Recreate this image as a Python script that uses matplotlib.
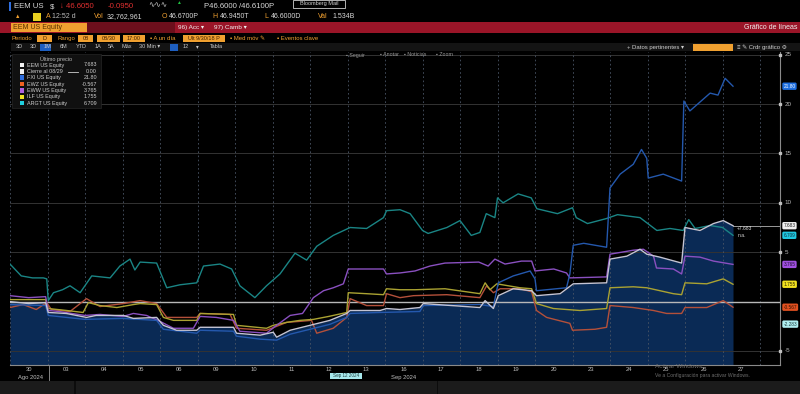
"""Bloomberg-style relative performance chart: EEM vs LatAm / China ETFs, Sep 2024."""

import matplotlib

matplotlib.use("Agg")
import matplotlib.pyplot as plt
import matplotlib.transforms as mtransforms
from matplotlib.patches import Rectangle

W, H = 800, 394

# x = trading-day position (0 = 30 Aug, 1 = 03 Sep, ...), y = % change vs 08/29 close
day_labels = ["30", "03", "04", "05", "06", "09", "10", "11", "12", "13",
              "16", "17", "18", "19", "20", "23", "24", "25", "26", "27"]

eem_t = [0, 0.5, 0.95, 1.02, 1.5, 2.04, 2.3, 3.02, 3.29, 3.91, 4.09, 4.44, 4.98, 5.07,
         5.96, 6.04, 6.67, 7.02, 7.11, 7.47, 8.0, 8.53, 8.98, 9.07, 9.87, 10.04, 10.4,
         10.93, 11.02, 12.53, 12.67, 12.89, 13.02, 13.42, 13.91, 14.04, 14.67, 15.02,
         15.91, 16.0, 16.45, 16.8, 16.98, 17.33, 17.91, 18.0, 18.4, 18.76, 19.02, 19.28]
eem_v = [0.0, -0.2, -0.1, -1.1, -1.2, -1.6, -1.4, -1.4, -1.7, -1.6, -2.4, -2.9, -2.9, -2.6,
         -2.6, -3.2, -3.4, -3.1, -3.6, -2.9, -2.4, -1.9, -1.2, -0.9, -0.9, -0.7, -0.8,
         -0.6, -0.2, -0.6, 0.1, -0.7, 0.6, 1.3, 1.1, 0.6, 0.8, 1.8,
         1.9, 4.3, 4.6, 5.3, 4.8, 4.5, 3.9, 7.5, 7.2, 7.9, 8.2, 7.683]

fxi_t = [0, 0.95, 1.02, 2.0, 3.0, 3.91, 4.09, 4.98, 5.07, 5.96, 6.04, 6.67, 7.11, 7.47,
         8.0, 8.53, 8.98, 9.07, 9.87, 10.93, 11.02, 12.53, 12.89, 13.02, 13.42, 13.87,
         14.0, 14.04, 14.84, 14.93, 15.02, 15.3, 15.91, 16.0, 16.27, 16.62, 16.84, 16.98,
         17.02, 17.42, 17.91, 17.97, 18.13, 18.4, 18.67, 18.88, 19.07, 19.28]
fxi_v = [-0.3, -0.4, -1.4, -1.8, -1.7, -1.9, -2.8, -3.2, -2.9, -3.0, -3.5, -3.8, -3.9, -3.3,
         -2.8, -2.3, -1.6, -1.2, -1.1, -1.0, -0.4, -0.3, -0.5, 1.9, 2.6, 3.1,
         2.3, 1.1, 1.4, 2.8, 5.7, 5.9, 5.5, 11.5, 12.9, 13.9, 15.4, 14.5,
         12.5, 12.9, 12.2, 20.3, 19.3, 20.2, 21.1, 20.9, 22.6, 21.80]

ewz_t = [0, 0.35, 0.7, 0.98, 1.1, 1.6, 2.04, 2.4, 3.02, 3.47, 3.91, 4.18, 4.98, 5.07,
         5.87, 6.04, 6.84, 7.11, 7.38, 7.73, 8.04, 8.18, 8.62, 8.98, 9.07, 9.51, 9.96,
         10.04, 10.4, 10.76, 11.65, 12.53, 12.71, 12.89, 13.07, 13.6, 13.91, 14.04, 14.31,
         14.93, 15.0, 15.6, 15.91, 16.0, 16.62, 17.16, 17.51, 17.91, 18.0, 18.58, 19.02, 19.28]
ewz_v = [-0.6, -0.3, -0.8, -0.1, -0.8, -1.0, 0.3, -0.5, -0.2, 0.1, -0.2, -1.6, -1.6, -1.2,
         -1.3, -2.7, -2.9, -2.5, -2.1, -2.0, -1.9, -3.2, -2.7, -1.6, 0.3, -0.4, -0.4,
         0.8, 0.4, 0.6, 0.7, 0.4, 1.6, 0.9, 1.3, 1.3, 1.0, -0.9, -1.6,
         -2.2, -2.9, -2.8, -2.6, -0.4, -0.6, -0.9, -1.2, -1.2, -0.6, -0.6, 0.1, -0.567]

eww_t = [0, 0.5, 0.95, 1.02, 1.3, 2.0, 2.4, 3.02, 3.29, 3.64, 4.0, 4.36, 4.89, 5.07,
         5.5, 5.96, 6.13, 6.84, 7.11, 7.47, 7.8, 8.09, 8.36, 8.62, 8.89, 9.02, 9.51, 9.96,
         10.04, 10.4, 10.8, 11.2, 11.6, 12.5, 12.75, 12.93, 13.2, 13.64, 13.91, 14.0, 14.5,
         14.84, 14.93, 15.91, 16.0, 16.62, 16.89, 17.16, 17.24, 17.69, 17.91, 18.0, 18.4,
         18.76, 19.28]
eww_v = [0.6, 0.4, 0.5, -0.9, -1.0, -1.4, -1.3, -1.5, -1.2, -1.4, -2.0, -2.7, -2.7, -1.5,
         -1.6, -1.9, -3.0, -3.2, -2.4, -1.4, -1.2, 0.4, 1.1, 1.4, 1.8, 3.3, 3.3, 3.3,
         2.8, 2.9, 3.1, 3.6, 3.9, 4.0, 3.6, 4.3, 3.8, 4.1, 4.1, 3.1, 3.3,
         2.9, 2.4, 2.5, 4.8, 5.2, 5.3, 4.6, 3.4, 3.3, 2.8, 4.6, 4.5,
         4.1, 3.765]

ilf_t = [0, 0.95, 1.02, 1.51, 1.95, 2.09, 2.4, 2.85, 3.29, 3.47, 3.91, 4.09, 4.36, 4.98,
         5.07, 5.96, 6.04, 6.84, 7.02, 7.38, 7.73, 8.09, 8.5, 8.98, 9.02, 9.51, 9.96,
         10.04, 10.4, 10.8, 11.6, 12.53, 12.67, 12.8, 12.98, 13.6, 13.91, 14.04, 14.49,
         15.2, 15.91, 16.0, 16.62, 16.98, 17.69, 17.91, 18.0, 18.58, 19.02, 19.28]
ilf_v = [0.2, 0.2, -0.7, -0.9, -1.1, -0.1, -0.4, -0.6, -0.3, -0.2, -0.3, -1.6, -1.9, -1.9,
         -1.2, -1.3, -2.4, -2.7, -2.4, -2.1, -1.9, -1.8, -1.5, -1.1, 0.9, 0.8, 0.7,
         1.3, 1.2, 1.2, 1.3, 0.8, 1.9, 1.2, 1.8, 1.4, 1.3, -0.2, -0.7,
         -0.9, -0.7, 1.4, 1.5, 1.4, 0.8, 0.7, 1.9, 1.8, 2.3, 1.755]

argt_t = [0, 0.3, 0.6, 0.89, 0.98, 1.02, 1.16, 1.4, 1.6, 1.87, 2.18, 2.67, 2.93, 3.2,
          3.33, 3.47, 3.91, 4.18, 4.53, 4.98, 5.16, 5.6, 5.91, 6.13, 6.53, 6.84, 7.2, 7.6,
          7.91, 8.18, 8.62, 9.07, 9.51, 9.96, 10.04, 10.4, 10.67, 11.0, 11.15, 11.65, 12.0,
          12.3, 12.53, 12.7, 12.93, 13.0, 13.15, 13.55, 13.9, 14.05, 14.6, 15.0, 15.1, 15.4,
          15.9, 16.2, 16.8, 17.25, 17.6, 17.95, 18.1, 18.27, 18.67, 19.0, 19.28]
argt_v = [3.8, 2.6, 2.4, 2.4, 2.3, 0.1, 0.9, 1.2, 1.6, 0.9, 2.6, 2.4, 3.6, 4.3,
          3.2, 4.0, 3.9, 1.4, 1.7, 1.9, 3.6, 3.8, 3.3, 1.6, 0.4, 1.6, 2.8, 4.9,
          4.2, 5.6, 6.7, 7.5, 7.4, 8.5, 9.2, 9.3, 8.9, 7.2, 6.9, 7.5, 8.2,
          6.7, 7.0, 8.9, 8.5, 10.5, 10.0, 10.9, 10.5, 9.4, 8.9, 9.5, 8.5, 7.9,
          8.4, 8.8, 8.5, 7.2, 7.4, 7.2, 8.3, 7.4, 7.7, 7.5, 6.709]

legend_names = ["EEM US Equity", "Cierre al 08/29", "FXI US Equity", "EWZ US Equity",
                "EWW US Equity", "ILF US Equity", "ARGT US Equity"]
legend_values = ["7.683", "0.00", "21.80", "-0.567", "3.765", "1.755", "6.709"]
legend_colors = ["#f2f2f2", "#f2f2f2", "#2f6fe0", "#f06020", "#b060e0", "#f0e020", "#20d0e0"]
right_ticks = [25, 20, 15, 10, 5, -5]

PX_PER_UNIT = 9.88
ZERO_PY = 301.6
PLOT_TOP, PLOT_BOTTOM, PLOT_LEFT, PLOT_RIGHT = 52, 365, 10, 780
DAY_PX = 37.5


def fx(x):
    return x / W


def fy(y):
    return 1 - y / H


def ftext(fig, x, y, s, **kw):
    kw.setdefault("va", "center")
    kw.setdefault("fontsize", 5)
    kw.setdefault("color", "#e0e0e0")
    fig.text(fx(x), fy(y), s, **kw)


def frect(fig, x, y, w, h, color, **kw):
    fig.patches.append(Rectangle((fx(x), fy(y + h)), w / W, h / H, transform=fig.transFigure,
                                 facecolor=color, edgecolor=kw.pop("edgecolor", "none"),
                                 linewidth=kw.pop("linewidth", 0.5), zorder=kw.pop("zorder", 1), **kw))


def draw_header(fig):
    orange = "#f0a030"
    # row 1: ticker line
    frect(fig, 9, 2, 2, 9, "#2f6fe0")
    ftext(fig, 14, 7, "EEM US", fontsize=5.6, color="#d8d8d8")
    ftext(fig, 50, 7, "$", fontsize=5.6, color="#d8d8d8")
    ftext(fig, 60, 7, "\u2193 46.6050", fontsize=5.6, color="#e03030")
    ftext(fig, 108, 7, "-0.0950", fontsize=5.6, color="#e03030")
    ftext(fig, 148, 6, "\u223f\u223f\u223f", fontsize=5.5, color="#c8c8c8")
    ftext(fig, 176, 3, "\u25b2", fontsize=3.5, color="#20c040")
    ftext(fig, 204, 7, "P46.6000 /46.6100P", fontsize=5.6, color="#d8d8d8")
    frect(fig, 293, 0, 52, 8, "black", edgecolor="#d0d0d0", linewidth=0.6, zorder=2)
    ftext(fig, 319, 4, "Bloomberg Mail", fontsize=4, color="#d0d0d0", ha="center", zorder=3)
    # row 2: quote stats
    ftext(fig, 15, 17, "\u25b2", fontsize=4, color=orange)
    frect(fig, 33, 13, 8, 8, "#e8d020")
    ftext(fig, 46, 17, "A", fontsize=5, color=orange)
    ftext(fig, 52, 17, "12:52 d", fontsize=5, color="#bbbbbb")
    stats = [(94, "Vol", 107, "32,762,961"), (162, "O", 169, "46.6700P"),
             (212, "H", 220, "46.9450T"), (264, "L", 271, "46.6000D"),
             (318, "Val", 332, "1.534B")]
    for lx, lab, vx, val in stats:
        ftext(fig, lx, 17, lab, fontsize=5, color=orange)
        ftext(fig, vx, 17, val, fontsize=5, color="#d8d8d8")
    # row 3: red security bar
    frect(fig, 0, 22, W, 11, "#9a1528")
    frect(fig, 87, 22, 88, 11, "#6c0f1c")
    frect(fig, 11, 23, 76, 9, orange)
    ftext(fig, 13, 27.5, "EEM US Equity", fontsize=5, color="#5a3300")
    ftext(fig, 178, 27.5, "96) Acc \u25be", fontsize=4.6, color="#f0f0f0")
    ftext(fig, 214, 27.5, "97) Camb \u25be", fontsize=4.6, color="#f0f0f0")
    ftext(fig, 797, 27.5, "Gr\u00e1fico de l\u00edneas", fontsize=5, color="#f0f0f0", ha="right")
    # row 4: period / range controls
    ftext(fig, 12, 38.5, "Periodo", fontsize=4.3, color=orange)
    frect(fig, 37, 35, 15, 7, orange)
    ftext(fig, 44.5, 38.5, "D", fontsize=4, color="#402000", ha="center")
    ftext(fig, 58, 38.5, "Rango", fontsize=4.3, color=orange)
    for bx, bw, s in [(78, 15, "08"), (97, 23, "08/30"), (123, 22, "17:00")]:
        frect(fig, bx, 35, bw, 7, orange)
        ftext(fig, bx + bw / 2, 38.5, s, fontsize=4, color="#402000", ha="center")
    ftext(fig, 150, 38.5, "\u25aa A un d\u00eda", fontsize=4.3, color=orange)
    frect(fig, 183, 35, 42, 7, orange)
    ftext(fig, 204, 38.5, "Ult 9/30/18 P", fontsize=4, color="#402000", ha="center")
    ftext(fig, 230, 38.5, "\u25aa Med m\u00f3v \u270e", fontsize=4.3, color=orange)
    ftext(fig, 277, 38.5, "\u25aa Eventos clave", fontsize=4.3, color=orange)
    # row 5: time-frame buttons
    frect(fig, 11, 43, W - 11, 8, "#141414")
    tabs = [(16, "3D"), (30, "3D"), (44, "1M"), (60, "6M"), (76, "YTD"), (95, "1A"),
            (108, "5A"), (121, "M\u00e1x"), (139, "30 Min \u25be"), (183, "12"), (196, "\u25be"),
            (210, "Tabla")]
    frect(fig, 40, 43.5, 11, 7, "#1e5fc0")
    frect(fig, 170, 43.5, 8, 7, "#1e5fc0")
    for tx, s in tabs:
        ftext(fig, tx, 47, s, fontsize=4, color="#c8c8c8")
    ftext(fig, 627, 47, "+ Datos pertinentes \u25be", fontsize=4.3, color="#d0d0d0")
    frect(fig, 693, 43.5, 40, 7, orange)
    ftext(fig, 737, 47, "\u2261 \u270e Crdr gr\u00e1fico \u2699", fontsize=4.3, color="#d0d0d0")
    # row 6: chart tools
    for tx, s in [(346, "\u25aa Seguir"), (380, "\u25aa Anotar"), (404, "\u25aa Noticias"),
                  (436, "\u25aa Zoom")]:
        ftext(fig, tx, 55, s, fontsize=3.8, color="#9a9a9a", zorder=6)


def draw_legend(fig):
    frect(fig, 12, 54, 89, 54, "#101010", edgecolor="#262626", zorder=5)
    ftext(fig, 56, 59, "\u00daltimo precio", fontsize=4, color="#bbbbbb", ha="center", zorder=6)
    for i, (name, val, col) in enumerate(zip(legend_names, legend_values, legend_colors)):
        y = 65 + i * 6.35
        frect(fig, 19.5, y - 2.2, 4.4, 4.4, col, zorder=6)
        ftext(fig, 27, y, name, fontsize=3.9, color="#cfcfcf", zorder=6)
        ftext(fig, 97, y, val, fontsize=3.9, color="#cfcfcf", ha="right", zorder=6)
    fig.lines.append(plt.Line2D([fx(68), fx(78)], [fy(71.5), fy(71.5)], transform=fig.transFigure,
                                color="#cfcfcf", linewidth=0.6, zorder=6))


def draw_chart(fig):
    top = (ZERO_PY - PLOT_TOP) / PX_PER_UNIT
    bottom = (ZERO_PY - PLOT_BOTTOM) / PX_PER_UNIT
    right = (PLOT_RIGHT - PLOT_LEFT) / DAY_PX
    ax = fig.add_axes([fx(PLOT_LEFT), fy(PLOT_BOTTOM), (PLOT_RIGHT - PLOT_LEFT) / W,
                       (PLOT_BOTTOM - PLOT_TOP) / H])
    ax.set_facecolor("black")
    ax.set_xlim(0, right)
    ax.set_ylim(bottom, top)
    ax.set_xticks([])
    ax.set_yticks([])
    for side in ("left", "top"):
        ax.spines[side].set_visible(False)
    for side in ("right", "bottom"):
        ax.spines[side].set_color("#8a8a8a")
        ax.spines[side].set_linewidth(0.8)

    ax.fill_between(eem_t, eem_v, bottom, color="#0a2a55", linewidth=0, zorder=1)
    for v in right_ticks:
        ax.axhline(v, color="#333333", linewidth=0.7, zorder=2)
    for i in range(len(day_labels) + 1):
        ax.axvline(i, color="#4a5566", linewidth=0.6, linestyle=(0, (2, 3)), zorder=2)

    ax.axhline(0, color="#b8b8b8", linewidth=1.0, zorder=3)
    series = [
        (argt_t, argt_v, "#1a8585"),
        (ewz_t, ewz_v, "#b4503a"),
        (ilf_t, ilf_v, "#aaa232"),
        (eww_t, eww_v, "#8a50c0"),
        (fxi_t, fxi_v, "#2458ad"),
        (eem_t, eem_v, "#c4c4d4"),
    ]
    for t, v, c in series:
        ax.plot(t, v, color=c, linewidth=1.0, zorder=4)
    ax.plot([eem_t[-1], right], [eem_v[-1], eem_v[-1]], color="#9a9a9a", linewidth=0.7, zorder=3)
    ax.text(eem_t[-1] + 0.1, eem_v[-1] - 0.25, "+7.683", fontsize=3.6, color="#d8d8d8",
            va="center", zorder=5)
    ax.text(eem_t[-1] + 0.12, eem_v[-1] - 1.0, "n.a.", fontsize=3.6, color="#d8d8d8",
            va="center", zorder=5)

    # right axis ticks and last-value tags
    trans = mtransforms.blended_transform_factory(ax.transAxes, ax.transData)
    for v in right_ticks:
        ax.plot([1.0], [v], marker="s", markersize=1.6, color="#c0c0c0", transform=trans,
                clip_on=False, zorder=6)
        ax.text(1.006, v, str(v), fontsize=4.5, color="#b8b8b8", va="center", ha="left",
                transform=trans, clip_on=False)
    tags = [(fxi_v[-1], "21.80", "#1e6fe0", "white"),
            (eem_v[-1], "7.683", "#f0f0f0", "#202020"),
            (argt_v[-1], "6.709", "#20c8e0", "#103040"),
            (eww_v[-1], "3.765", "#a050e0", "#201030"),
            (ilf_v[-1], "1.755", "#f0e020", "#302800"),
            (ewz_v[-1], "-0.567", "#e05020", "#301000"),
            (-2.28, "-2.283", "#b0eef0", "#204040")]
    for v, s, bg, fg in tags:
        ax.text(1.0045, v, s, fontsize=3.4, color=fg, va="center", ha="left", transform=trans,
                clip_on=False, zorder=7,
                bbox=dict(boxstyle="round,pad=0.25,rounding_size=0.3", facecolor=bg,
                          edgecolor="none"))

    # x axis labels
    for i, lab in enumerate(day_labels):
        ftext(fig, PLOT_LEFT + (i + 0.5) * DAY_PX, 369.5, lab, fontsize=4.2, color="#bdbdbd",
              ha="center")
    ftext(fig, 30, 377, "Ago 2024", fontsize=4.2, color="#bdbdbd", ha="center")
    ftext(fig, 404, 377, "Sep 2024", fontsize=4.2, color="#bdbdbd", ha="center")
    fig.lines.append(plt.Line2D([fx(49), fx(49)], [fy(366), fy(380)], transform=fig.transFigure,
                                color="#9a9a9a", linewidth=0.6))
    frect(fig, 330, 373, 32, 6, "#a8e8ec", zorder=4)
    ftext(fig, 346, 376, "Sep 12 2024", fontsize=3.3, color="#204040", ha="center", zorder=5)


def main() -> None:
    plt.rcParams["font.family"] = ["Liberation Sans", "DejaVu Sans"]
    fig = plt.figure(figsize=(W / 100, H / 100), dpi=100, facecolor="black")
    draw_header(fig)
    draw_chart(fig)
    draw_legend(fig)
    # bottom status bar and Windows activation watermark
    frect(fig, 0, 381, W, 13, "#1b1b1b")
    frect(fig, 74, 381, 1.5, 13, "#0c0c0c")
    frect(fig, 437, 381, 1.5, 13, "#0c0c0c")
    ftext(fig, 655, 366, "Activar Windows", fontsize=4.6, color="#6e6e6e")
    ftext(fig, 655, 376, "Ve a Configuraci\u00f3n para activar Windows.", fontsize=3.6,
          color="#6e6e6e")
    fig.savefig("out.png", dpi=100, facecolor="black")
    plt.close(fig)


if __name__ == "__main__":
    main()
